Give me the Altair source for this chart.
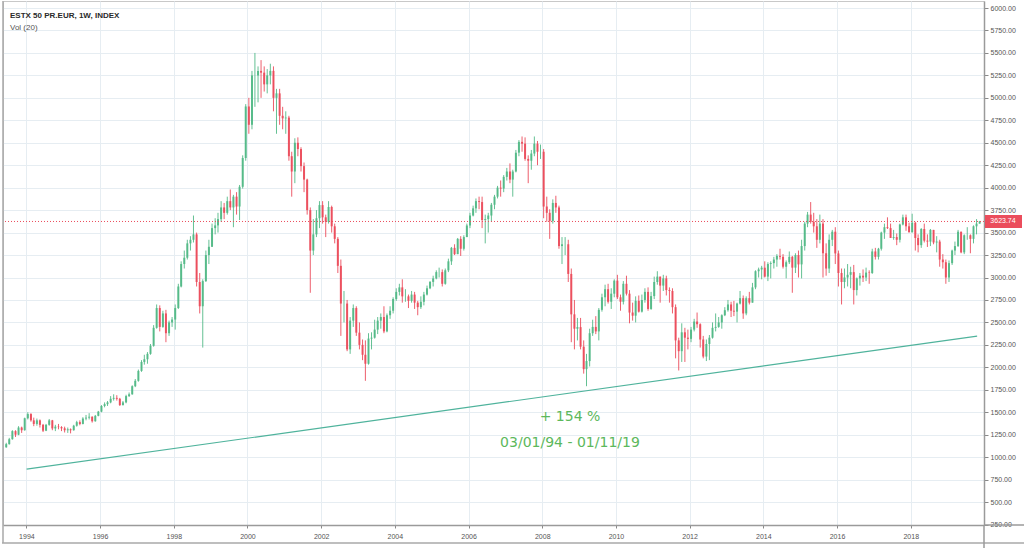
import altair as alt
import pandas as pd
import numpy as np

# Monthly OHLC (ESTX 50, Jun 1993 .. Nov 2019)
first_open = 1110
closes = [
    1145, 1200, 1290, 1250, 1330, 1300, 1433,
    1480, 1410, 1370, 1410, 1360, 1295, 1360, 1410, 1320, 1340, 1335, 1321,
    1300, 1310, 1300, 1350, 1390, 1370, 1430, 1440, 1450, 1400, 1460, 1507,
    1570, 1590, 1610, 1650, 1660, 1650, 1580, 1610, 1680, 1700, 1790, 1850,
    1960, 2060, 2090, 2150, 2240, 2440, 2660, 2450, 2600, 2380, 2500, 2532,
    2660, 2900, 3150, 3220, 3380, 3420, 3480, 2950, 2680, 2960, 3250, 3342,
    3550, 3580, 3650, 3780, 3720, 3850, 3780, 3900, 3790, 4010, 4330, 4904,
    4700, 5250, 5250, 5300, 5280, 5150, 5250, 5300, 5000, 5050, 4800, 4772,
    4780, 4350, 4180, 4500, 4430, 4240, 4090, 3750, 3300, 3480, 3660, 3806,
    3670, 3620, 3785, 3570, 3430, 3130, 2710, 2710, 2200, 2520, 2660, 2386,
    2250, 2140, 2040, 2320, 2330, 2420, 2520, 2560, 2400, 2580, 2630, 2761,
    2840, 2890, 2790, 2790, 2740, 2810, 2720, 2670, 2730, 2810, 2880, 2951,
    2990, 3060, 3060, 2930, 3080, 3180, 3330, 3260, 3430, 3320, 3450, 3579,
    3690, 3770, 3850, 3840, 3640, 3650, 3690, 3810, 3900, 4000, 3990, 4120,
    4180, 4090, 4180, 4390, 4510, 4490, 4320, 4300, 4380, 4490, 4400, 4400,
    3790, 3720, 3630, 3830, 3780, 3350, 3370, 3370, 3040, 2590, 2430, 2448,
    2230, 1980, 2070, 2380, 2450, 2400, 2640, 2780, 2870, 2730, 2820, 2965,
    2780, 2730, 2930, 2820, 2610, 2575, 2740, 2620, 2750, 2840, 2650, 2793,
    2950, 3010, 2910, 2990, 2860, 2850, 2670, 2300, 2180, 2390, 2330, 2317,
    2420, 2510, 2480, 2310, 2120, 2260, 2330, 2440, 2450, 2500, 2580, 2636,
    2700, 2630, 2620, 2710, 2770, 2600, 2770, 2720, 2890, 3070, 3090, 3109,
    3010, 3150, 3160, 3200, 3240, 3230, 3120, 3170, 3230, 3110, 3250, 3146,
    3350, 3600, 3700, 3620, 3570, 3420, 3600, 3270, 3100, 3420, 3510, 3268,
    3050, 2950, 3000, 3030, 3060, 2860, 2990, 3020, 3000, 3055, 3050, 3290,
    3230, 3320, 3500, 3560, 3550, 3440, 3450, 3420, 3590, 3670, 3570, 3504,
    3610, 3440, 3360, 3540, 3410, 3400, 3530, 3390, 3400, 3200, 3170, 3000,
    3160, 3300, 3350, 3510, 3280, 3470, 3470, 3430, 3570, 3600, 3623.74,
]
highs = [
    1160, 1215, 1300, 1300, 1345, 1340, 1440,
    1500, 1490, 1440, 1430, 1420, 1370, 1370, 1425, 1415, 1360, 1370, 1345,
    1340, 1330, 1320, 1360, 1405, 1410, 1445, 1470, 1490, 1455, 1470, 1515,
    1580, 1610, 1625, 1680, 1700, 1690, 1660, 1625, 1695, 1720, 1800, 1870,
    1975, 2080, 2140, 2170, 2260, 2470, 2700, 2690, 2630, 2640, 2520, 2560,
    2700, 2930, 3180, 3300, 3420, 3460, 3690, 3500, 3050, 2980, 3300, 3420,
    3600, 3660, 3720, 3850, 3830, 3900, 3980, 3920, 3950, 4030, 4360, 4930,
    5000, 5300, 5500, 5350, 5420, 5350, 5320, 5380, 5350, 5100, 5100, 4900,
    4850, 4800, 4400, 4550, 4560, 4450, 4280, 4100, 3780, 3650, 3750, 3850,
    3850, 3700, 3850, 3800, 3600, 3450, 3200, 2850, 2750, 2560, 2700, 2680,
    2500, 2310, 2300, 2380, 2390, 2530, 2560, 2600, 2680, 2600, 2680, 2780,
    2880, 2930, 2980, 2870, 2810, 2850, 2840, 2740, 2790, 2840, 2910, 2960,
    3020, 3080, 3110, 3090, 3100, 3210, 3340, 3370, 3440, 3460, 3470, 3600,
    3720, 3800, 3880, 3900, 3900, 3700, 3720, 3830, 3920, 4020, 4080, 4140,
    4220, 4270, 4200, 4420, 4530, 4570, 4560, 4360, 4420, 4570, 4520, 4480,
    4430, 3900, 3760, 3870, 3910, 3800, 3450, 3450, 3420, 3100, 2750, 2550,
    2550, 2300, 2150, 2430, 2530, 2570, 2660, 2820, 2920, 2930, 2880, 2980,
    3030, 2810, 2960, 3020, 2860, 2720, 2790, 2800, 2810, 2880, 2890, 2840,
    3010, 3070, 3010, 3030, 3020, 2890, 2880, 2700, 2330, 2490, 2440, 2420,
    2450, 2540, 2610, 2490, 2350, 2310, 2360, 2500, 2600, 2560, 2590, 2670,
    2750, 2730, 2740, 2720, 2850, 2800, 2790, 2840, 2940, 3080, 3110, 3130,
    3180, 3170, 3180, 3230, 3260, 3320, 3260, 3190, 3290, 3240, 3270, 3300,
    3420, 3620, 3730, 3840, 3720, 3650, 3700, 3650, 3380, 3480, 3530, 3560,
    3300, 3100, 3100, 3150, 3120, 3140, 3000, 3050, 3090, 3110, 3080, 3320,
    3330, 3330, 3510, 3600, 3670, 3600, 3530, 3490, 3600, 3700, 3700, 3610,
    3710, 3620, 3480, 3550, 3600, 3480, 3540, 3530, 3460, 3420, 3260, 3200,
    3190, 3310, 3400, 3530, 3510, 3480, 3560, 3480, 3580, 3650, 3630,
]
lows = [
    1105, 1140, 1195, 1225, 1245, 1270, 1295,
    1420, 1395, 1345, 1350, 1330, 1280, 1290, 1350, 1300, 1290, 1310, 1290,
    1275, 1270, 1265, 1295, 1340, 1355, 1365, 1410, 1420, 1385, 1395, 1455,
    1500, 1555, 1570, 1600, 1630, 1630, 1570, 1575, 1600, 1670, 1695, 1780,
    1840, 1950, 2030, 2040, 2140, 2230, 2430, 2400, 2440, 2280, 2350, 2450,
    2420, 2650, 2890, 3100, 3200, 3300, 3390, 2900, 2600, 2220, 2950, 3150,
    3340, 3480, 3500, 3620, 3650, 3700, 3750, 3560, 3700, 3640, 3990, 4300,
    4600, 4650, 4900, 4950, 5000, 5070, 5050, 5150, 4850, 4600, 4700, 4650,
    4600, 4300, 3900, 4050, 4350, 4180, 3950, 3700, 2830, 3250, 3450, 3550,
    3600, 3450, 3600, 3500, 3380, 3050, 2350, 2500, 2180, 2150, 2450, 2350,
    2200, 2080, 1850, 2030, 2200, 2320, 2370, 2430, 2380, 2390, 2540, 2600,
    2740, 2800, 2720, 2730, 2660, 2720, 2650, 2580, 2650, 2690, 2800, 2870,
    2900, 2980, 3000, 2900, 2920, 3060, 3140, 3250, 3260, 3240, 3300, 3450,
    3550, 3680, 3720, 3760, 3550, 3380, 3500, 3620, 3760, 3880, 3900, 3950,
    4080, 4050, 3900, 4170, 4350, 4400, 4300, 4050, 4200, 4350, 4250, 4320,
    3660, 3620, 3430, 3600, 3720, 3320, 3150, 3250, 2950, 2280, 2200, 2300,
    2200, 1930, 1790, 2010, 2350, 2370, 2300, 2620, 2680, 2710, 2650, 2780,
    2760, 2630, 2700, 2800, 2490, 2520, 2500, 2610, 2610, 2720, 2630, 2640,
    2760, 2920, 2720, 2850, 2800, 2720, 2600, 2100, 1965, 2060, 2060, 2200,
    2280, 2400, 2440, 2220, 2100, 2070, 2080, 2320, 2400, 2440, 2430, 2570,
    2620, 2560, 2570, 2500, 2700, 2540, 2580, 2700, 2730, 2870, 3000, 2980,
    3000, 2960, 2990, 3100, 3120, 3200, 3100, 2990, 3150, 2830, 3050, 3000,
    2990, 3300, 3560, 3600, 3500, 3330, 3380, 3000, 3020, 3050, 3350, 3150,
    2900, 2700, 2880, 2900, 2880, 2700, 2800, 2910, 2950, 2960, 2930, 3040,
    3200, 3200, 3300, 3430, 3540, 3440, 3420, 3360, 3390, 3580, 3520, 3500,
    3500, 3300, 3280, 3330, 3390, 3340, 3350, 3370, 3280, 3120, 3100, 2930,
    2950, 3140, 3250, 3340, 3270, 3260, 3420, 3270, 3380, 3480, 3600,
]

trend_dates = ["1994-01-03", "2019-10-21"]
trend_values = [867, 2348]
last_price = 3623.74
year_ticks = list(range(1994, 2019, 2))
price_ticks = list(range(250, 6001, 250))

GREEN = "#53b987"
RED = "#eb4d5c"
LINE = "#4fb39c"
TXT_GREEN = "#5cb85c"

n = len(closes)
dates = []
for i in range(n):
    m = 5 + i
    dates.append(f"{1993 + m // 12}-{m % 12 + 1:02d}-15")
opens = [first_open] + closes[:-1]
df = pd.DataFrame({"date": dates, "open": opens, "close": closes,
                   "high": highs, "low": lows})
df["high"] = df[["high", "open", "close"]].max(axis=1)
df["low"] = df[["low", "open", "close"]].min(axis=1)
df["dir"] = np.where(df["close"] >= df["open"], "up", "down")

xscale = alt.Scale(domain=[alt.DateTime(year=1993, month=5, date=14, utc=True),
                           alt.DateTime(year=2019, month=12, date=28, utc=True)],
                   nice=False, padding=0)
yscale = alt.Scale(domain=[245, 6078], nice=False, zero=False, padding=0)
color = alt.Color("dir:N", scale=alt.Scale(domain=["up", "down"], range=[GREEN, RED]),
                  legend=None)

xaxis = alt.Axis(values=[alt.DateTime(year=y, month=1, date=1, utc=True) for y in year_ticks],
                 format="%Y", title=None, labelFontSize=7, labelColor="#555555",
                 labelFont="Liberation Sans", tickSize=3, tickColor="#888888",
                 labelPadding=4, domainColor="#9a9a9a", domainWidth=1.5,
                 gridColor="#e6edf2", grid=True, labelFlush=False, labelOverlap=False)
yaxis = alt.Axis(orient="right", values=price_ticks, format=".2f", title=None,
                 labelFontSize=7, labelColor="#555555", labelFont="Liberation Sans",
                 tickSize=4, tickColor="#888888", labelPadding=2,
                 domainColor="#9a9a9a", domainWidth=1.5, gridColor="#e6edf2",
                 grid=True, labelFlush=False, labelOverlap=False, labelSeparation=0,
                 labelBound=False)


def X(field):
    return alt.X(field, scale=xscale, axis=xaxis)


def Y(field):
    return alt.Y(field, scale=yscale, axis=yaxis)


base = alt.Chart(df)
wicks = base.mark_rule(strokeWidth=1, opacity=0.9).encode(
    x=X("date:T"), y=Y("low:Q"), y2="high:Q", color=color,
)
bodies = base.mark_bar(size=2, opacity=0.95).encode(
    x=X("date:T"), y=Y("open:Q"), y2="close:Q", color=color,
)

trend = alt.Chart(pd.DataFrame({"d": trend_dates, "v": trend_values})).mark_line(
    color=LINE, strokeWidth=1.2).encode(x=X("d:T"), y=Y("v:Q"))

pdf = pd.DataFrame({"p": [last_price], "lab": [f"{last_price:.2f}"]})
price_line = alt.Chart(pdf).mark_rule(color=RED, strokeDash=[1, 2], strokeWidth=1).encode(
    y=Y("p:Q"))
price_tag = alt.Chart(pdf).mark_rect(color=RED, opacity=1, yOffset=-6.5,
                                     y2Offset=6.5).encode(
    x=alt.value(982), x2=alt.value(1019), y=Y("p:Q"), y2="p:Q")
price_txt = alt.Chart(pdf).mark_text(color="white", fontSize=7, font="Liberation Sans",
                                     align="center", baseline="middle").encode(
    x=alt.value(1000), y=Y("p:Q"), text="lab:N")

ann = pd.DataFrame({"d": ["2008-10-02", "2008-10-02"], "v": [1444, 1156],
                    "t": ["+ 154 %", "03/01/94 - 01/11/19"]})
ann_txt = alt.Chart(ann).mark_text(color=TXT_GREEN, fontSize=14, font="DejaVu Sans",
                                   align="center", baseline="middle").encode(
    x=X("d:T"), y=Y("v:Q"), text="t:N")

hdr = pd.DataFrame({"t": ["ESTX 50 PR.EUR, 1W, INDEX"]})
hdr1 = alt.Chart(hdr).mark_text(align="left", baseline="alphabetic", fontSize=8,
                                font="Liberation Sans", color="#2a2a2a",
                                fontWeight="bold").encode(
    x=alt.value(7), y=alt.value(17), text="t:N")
hdr2 = alt.Chart(pd.DataFrame({"t": ["Vol (20)"]})).mark_text(
    align="left", baseline="alphabetic", fontSize=8, font="Liberation Sans",
    color="#555555").encode(x=alt.value(7), y=alt.value(29), text="t:N")

frame_c = "#a8a8a8"
fr = pd.DataFrame({"k": [0]})
f_bottom = alt.Chart(fr).mark_rule(color=frame_c, strokeWidth=1.5).encode(
    x=alt.value(-1), x2=alt.value(1021), y=alt.value(542))
f_left = alt.Chart(fr).mark_rule(color=frame_c, strokeWidth=1.5).encode(
    x=alt.value(0), y=alt.value(0), y2=alt.value(542))
f_right = alt.Chart(fr).mark_rule(color="#9a9a9a", strokeWidth=1.5).encode(
    x=alt.value(981), y=alt.value(524), y2=alt.value(547))
f_axis = alt.Chart(fr).mark_rule(color="#9a9a9a", strokeWidth=1.5).encode(
    x=alt.value(981), x2=alt.value(1021), y=alt.value(524))

chart = alt.layer(
    wicks, bodies, trend, price_line, ann_txt, hdr1, hdr2,
    f_bottom, f_left, f_right, f_axis, price_tag, price_txt,
).properties(
    width=981, height=524,
    padding={"left": 3, "top": 1, "right": 40, "bottom": 23},
    autosize=alt.AutoSizeParams(type="none"),
    background="white",
).configure_view(stroke="#c8c8c8", strokeWidth=1).configure_axis(labelOverlap=False)

chart.save("out.html", embed_options={"renderer": "svg", "actions": False})
